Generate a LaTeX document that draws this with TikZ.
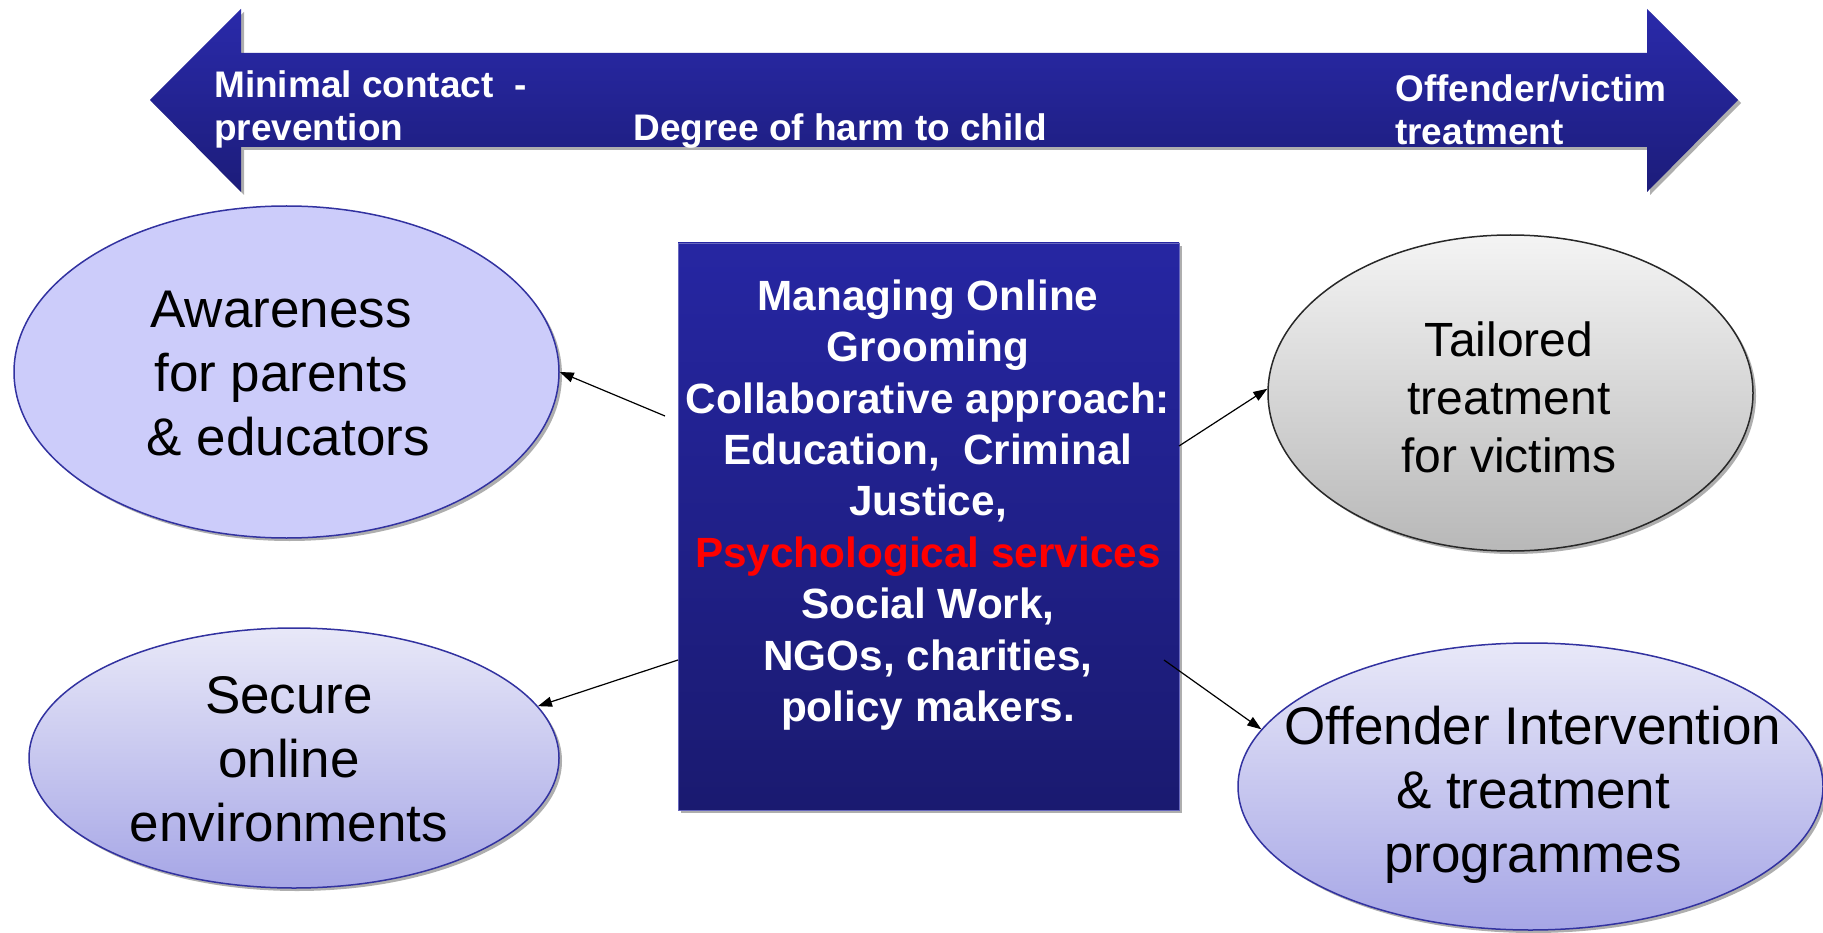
\documentclass[tikz,border=0pt]{standalone}
\usepackage{fontspec}
\setmainfont{Liberation Sans}
\usetikzlibrary{shapes.geometric,arrows.meta,shadows}
\definecolor{arrtop}{RGB}{42,42,170}
\definecolor{arrbot}{RGB}{28,28,122}
\definecolor{boxtop}{RGB}{38,38,162}
\definecolor{boxbot}{RGB}{26,26,112}
\definecolor{ellA}{RGB}{204,204,250}
\definecolor{ellEdge}{RGB}{50,50,160}
\definecolor{lavTop}{RGB}{232,232,248}
\definecolor{lavBot}{RGB}{166,166,230}
\definecolor{grayTop}{RGB}{244,244,244}
\definecolor{grayBot}{RGB}{184,184,184}
\definecolor{grayEdge}{RGB}{40,40,40}
\definecolor{psyred}{RGB}{255,0,0}
\begin{document}
\begin{tikzpicture}[x=1pt,y=-1pt,
  shdw/.style={drop shadow={shadow xshift=3pt,shadow yshift=-3pt,fill=black!45,opacity=0.7}},
  ellplain/.style={ellipse,inner sep=0pt,line width=1.5pt,shdw},
  elltxt/.style={text=black,font=\fontsize{53}{64}\selectfont,align=center,inner sep=0pt},
  arrlbl/.style={text=white,font=\bfseries\fontsize{37}{43}\selectfont,align=left,inner sep=0pt},
  boxtxt/.style={text=white,font=\bfseries\fontsize{42.3}{51.4}\selectfont,align=center,inner sep=0pt},
  mainbox/.style={rectangle,inner sep=0pt,top color=boxtop,bottom color=boxbot,draw=boxtop!70!white,line width=0.8pt,shdw},
  link/.style={line width=1.2pt,-{Triangle[length=14pt,width=10pt]}}
]
\useasboundingbox (0,0) rectangle (1823,933);
\fill[white] (0,0) rectangle (1823,933);

% big double arrow
\path[top color=arrtop,bottom color=arrbot,shdw]
  (150,100) -- (241,9) -- (241,53) -- (1647,53) -- (1647,9) -- (1738,100)
  -- (1647,192) -- (1647,147) -- (241,147) -- (241,192) -- cycle;
\node[arrlbl,anchor=base west] (lminimal) at (214,141) {Minimal contact\ \ -\\prevention};
\node[arrlbl,anchor=base] (ldegree) at (840,141) {Degree of harm to child};
\node[arrlbl,anchor=base west] (loffender) at (1395,145) {Offender/victim\\treatment};

% central box
\node[mainbox,minimum width=501pt,minimum height=567pt] (box) at (928.5,526.5) {};
\node[boxtxt] (boxtext) at (928,505) {Managing Online\\Grooming\\Collaborative approach:\\Education,\ \ Criminal\\Justice,\\\textcolor{psyred}{Psychological services}\\Social Work,\\NGOs, charities,\\policy makers.};

% ellipses
\node[ellplain,fill=ellA,draw=ellEdge,minimum width=545pt,minimum height=332pt] (e1) at (286.5,372) {};
\node[elltxt] (t1) at (281,374) {Awareness\\for parents\\\ \& educators};

\node[ellplain,top color=lavTop,bottom color=lavBot,draw=ellEdge,minimum width=530pt,minimum height=260pt] (e2) at (294,758) {};
\node[elltxt] (t2) at (289,759) {Secure\\online\\environments};

\node[ellplain,top color=grayTop,bottom color=grayBot,draw=grayEdge,minimum width=485pt,minimum height=316pt] (e3) at (1510.5,393) {};
\node[elltxt,font=\fontsize{48}{58}\selectfont] (t3) at (1509,397) {Tailored\\treatment\\for victims};

\node[ellplain,top color=lavTop,bottom color=lavBot,draw=ellEdge,minimum width=585pt,minimum height=287pt] (e4) at (1530.5,786.5) {};
\node[elltxt] (t4) at (1533,794.5) {Offender Intervention\\\& treatment\\programmes};

% connectors
\coordinate (sA) at (665,416);
\coordinate (sB) at (678,660);
\coordinate (sC) at (1179,446);
\coordinate (sD) at (1164,660);
\draw[link] (sA) -- (e1.east);
\draw[link] (sB) -- (e2.12);
\draw[link] (sC) -- (e3.179);
\draw[link] (sD) -- (e4.168);
\end{tikzpicture}
\end{document}
